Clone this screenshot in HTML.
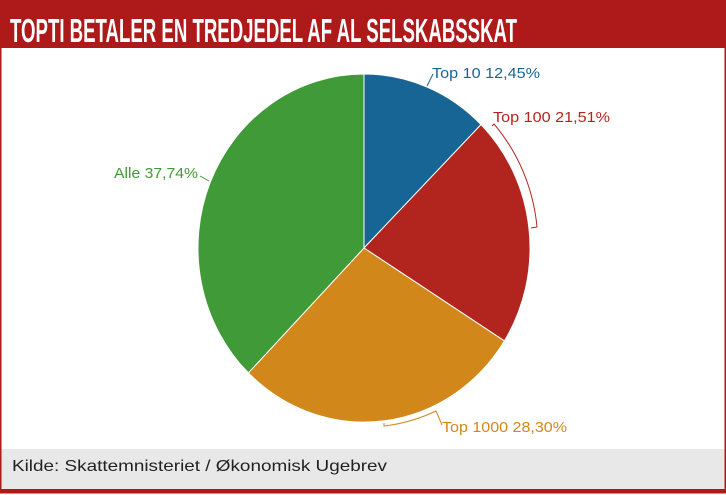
<!DOCTYPE html>
<html><head><meta charset="utf-8"><style>
html,body{margin:0;padding:0;background:#fff;}
svg{display:block;}
text{font-family:"Liberation Sans",sans-serif;}
</style></head><body>
<svg width="726" height="495" viewBox="0 0 726 495" xmlns="http://www.w3.org/2000/svg">
<rect x="0" y="0" width="726" height="495" fill="#fff"/>
<rect x="0" y="0" width="726" height="48" fill="#ae1a19"/>
<text x="10" y="42" font-size="33" font-weight="bold" fill="#fff" textLength="507" lengthAdjust="spacingAndGlyphs">TOPTI BETALER EN TREDJEDEL AF AL SELSKABSSKAT</text>
<rect x="0.75" y="0.75" width="724.5" height="492" fill="none" stroke="#ae1a19" stroke-width="1.5"/>
<rect x="1.5" y="449" width="723" height="40" fill="#e8e8e8"/>
<rect x="0" y="489" width="726" height="3" fill="#ae1a19"/>
<text x="12" y="471" font-size="16" fill="#222" textLength="375" lengthAdjust="spacingAndGlyphs">Kilde: Skattemnisteriet / Økonomisk Ugebrev</text>
<g stroke="#fff" stroke-width="1">
<path d="M364,248 L364,74 A166,174 0 0 1 481,124.6 Z" fill="#176594"/>
<path d="M364,248 L481,124.6 A166,174 0 0 1 504.4,340.9 Z" fill="#b2251f"/>
<path d="M364,248 L504.4,340.9 A166,174 0 0 1 248.4,372.9 Z" fill="#d2871b"/>
<path d="M364,248 L248.4,372.9 A166,174 0 0 1 364,74 Z" fill="#3f9a37"/>
</g>
<g fill="none" stroke-width="1">
<path d="M427,86 L433,74" stroke="#176594"/>
<path d="M492,126 L494,124 A174,182 0 0 1 537,227 L531,228" stroke="#b2251f"/>
<path d="M384,423 L384,426 A170,178 0 0 0 436,411 L442,425" stroke="#d2871b"/>
<path d="M200,176 L209,181" stroke="#3f9a37"/>
</g>
<text x="432" y="78" font-size="15" fill="#176594" textLength="108" lengthAdjust="spacingAndGlyphs">Top 10 12,45%</text>
<text x="493" y="122" font-size="15" fill="#b2251f" textLength="117" lengthAdjust="spacingAndGlyphs">Top 100 21,51%</text>
<text x="442" y="432" font-size="15" fill="#d2871b" textLength="125" lengthAdjust="spacingAndGlyphs">Top 1000 28,30%</text>
<text x="114" y="178" font-size="15" fill="#3f9a37" textLength="84" lengthAdjust="spacingAndGlyphs">Alle 37,74%</text>
</svg>
</body></html>
